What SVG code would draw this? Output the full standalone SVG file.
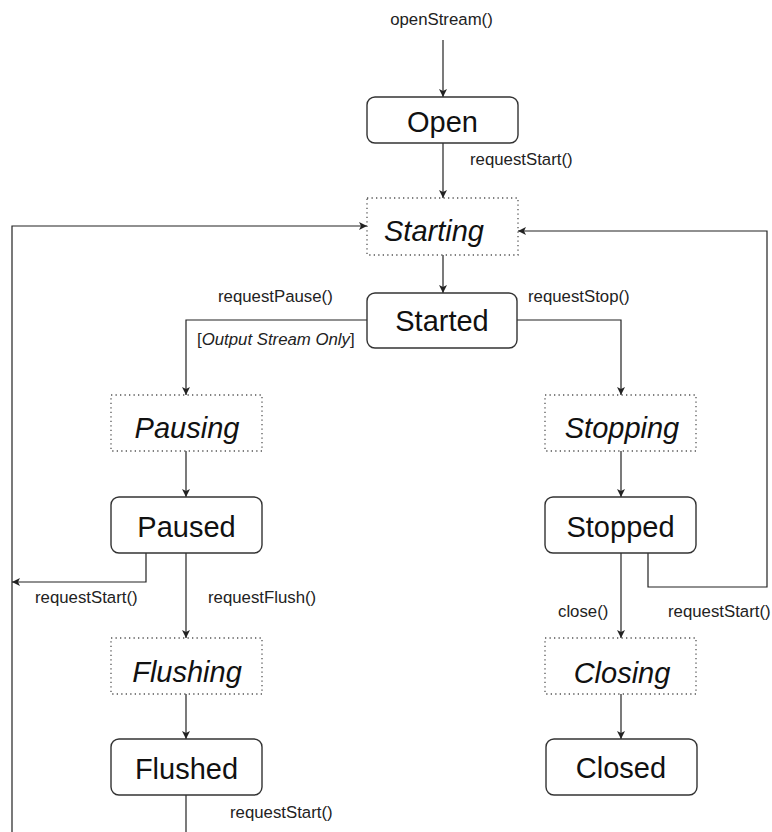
<svg xmlns="http://www.w3.org/2000/svg" width="772" height="832" viewBox="0 0 772 832">
  <defs>
    <marker id="arrow" viewBox="0 0 10 10" refX="10" refY="5" markerWidth="8" markerHeight="8" markerUnits="userSpaceOnUse" orient="auto">
      <path d="M0,0 L10,5 L0,10 L2.5,5 z" fill="#222"/>
    </marker>
    <style>
      .state { fill: #fff; stroke: #333; stroke-width: 1.4; }
      .transient { fill: #fff; stroke: #555; stroke-width: 1.3; stroke-dasharray: 1.3 3.2; }
      .name { font-family: "Liberation Sans", Arial, sans-serif; font-size: 29px; fill: #111; text-anchor: middle; }
      .name.italic { font-style: italic; }
      .label { font-family: "Liberation Sans", Arial, sans-serif; font-size: 16.8px; fill: #222; }
      .edge { fill: none; stroke: #222; stroke-width: 1.2; }
      .arrowed { marker-end: url(#arrow); }
    </style>
  </defs>

  <rect width="772" height="832" fill="#fff"/>

  <!-- transitions -->
  <g id="connectors">
    <path class="edge arrowed" d="M443,40 V97"/>
    <path class="edge arrowed" d="M443,143 V198"/>
    <path class="edge arrowed" d="M443,255 V293"/>
    <path class="edge arrowed" d="M367,320 H186 V395"/>
    <path class="edge arrowed" d="M517,320 H621 V395"/>
    <path class="edge arrowed" d="M186,451 V497"/>
    <path class="edge arrowed" d="M621,451 V497"/>
    <path class="edge arrowed" d="M146,553 V582 H12"/>
    <path class="edge arrowed" d="M186,553 V638"/>
    <path class="edge arrowed" d="M621,553 V638"/>
    <path class="edge arrowed" d="M648,553 V587 H767 V231 H518"/>
    <path class="edge arrowed" d="M186,694 V739"/>
    <path class="edge arrowed" d="M621,694 V739"/>
    <path class="edge" d="M186,795 V832"/>
    <path class="edge arrowed" d="M12,832 V226 H367"/>

    <text class="label" x="441.5" y="25" text-anchor="middle">openStream()</text>
    <text class="label" x="470" y="165">requestStart()</text>
    <text class="label" x="218" y="302">requestPause()</text>
    <text class="label" x="197" y="345">[<tspan font-style="italic">Output Stream Only</tspan>]</text>
    <text class="label" x="528" y="302">requestStop()</text>
    <text class="label" x="35" y="603">requestStart()</text>
    <text class="label" x="208" y="603">requestFlush()</text>
    <text class="label" x="558" y="617">close()</text>
    <text class="label" x="668" y="617">requestStart()</text>
    <text class="label" x="230" y="818">requestStart()</text>
  </g>

  <g id="open">
    <rect class="state" x="367" y="97" width="151" height="46" rx="8"/>
    <text class="name" x="442.5" y="131.5">Open</text>
  </g>
  <g id="starting">
    <rect class="transient" x="367" y="198" width="151" height="57"/>
    <text class="name italic" x="434" y="241">Starting</text>
  </g>
  <g id="started">
    <rect class="state" x="367" y="293" width="150" height="55" rx="8"/>
    <text class="name" x="442" y="331">Started</text>
  </g>
  <g id="pausing">
    <rect class="transient" x="111" y="395" width="151" height="56"/>
    <text class="name italic" x="187" y="438">Pausing</text>
  </g>
  <g id="paused">
    <rect class="state" x="111" y="497" width="151" height="56" rx="8"/>
    <text class="name" x="186.5" y="536.5">Paused</text>
  </g>
  <g id="flushing">
    <rect class="transient" x="111" y="638" width="151" height="56"/>
    <text class="name italic" x="187" y="681.5">Flushing</text>
  </g>
  <g id="flushed">
    <rect class="state" x="111" y="739" width="151" height="56" rx="8"/>
    <text class="name" x="186.5" y="778.5">Flushed</text>
  </g>
  <g id="stopping">
    <rect class="transient" x="545" y="395" width="151" height="56"/>
    <text class="name italic" x="622" y="438">Stopping</text>
  </g>
  <g id="stopped">
    <rect class="state" x="545" y="497" width="151" height="56" rx="8"/>
    <text class="name" x="620.5" y="536.5">Stopped</text>
  </g>
  <g id="closing">
    <rect class="transient" x="545" y="638" width="151" height="56"/>
    <text class="name italic" x="622" y="682.5">Closing</text>
  </g>
  <g id="closed">
    <rect class="state" x="546" y="739" width="151" height="56" rx="8"/>
    <text class="name" x="621" y="778">Closed</text>
  </g>
</svg>
